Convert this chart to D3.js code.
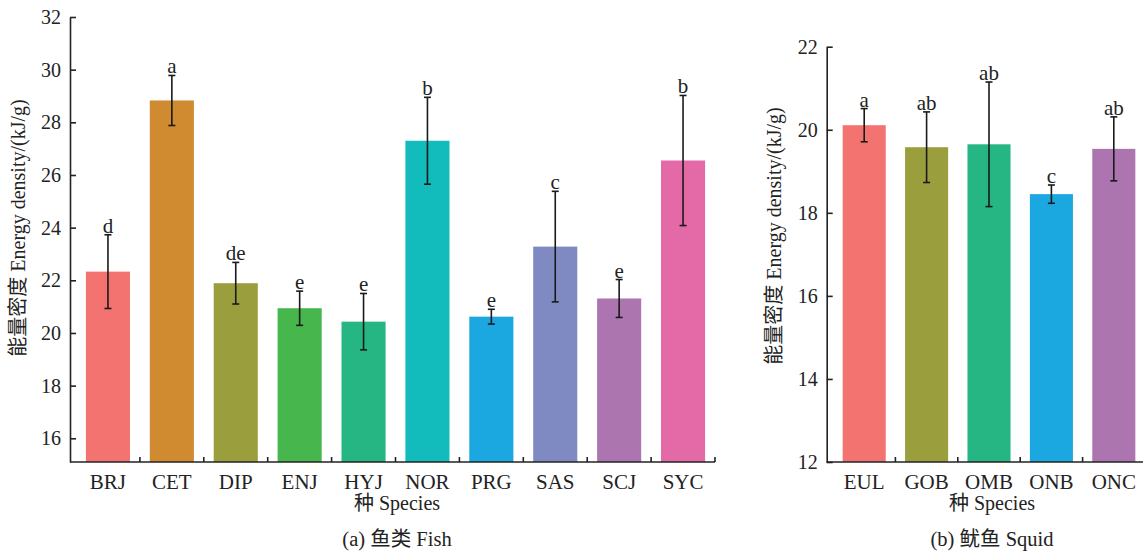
<!DOCTYPE html>
<html>
<head>
<meta charset="utf-8">
<script src="https://cdn.jsdelivr.net/npm/d3@7"></script>
<style>
  body { margin: 0; background: #fff; }
  svg text { font-family: "Liberation Serif", "Times New Roman", "Noto Sans CJK SC", serif; fill: #222; }
  .axis path, .axis line { stroke: #222; stroke-width: 1.6; }
  .y-axis text { font-size: 20px; }
  .x-axis text { font-size: 21px; }
</style>
</head>
<body>
<div id="chart"></div>
<script>
// Panel (a) fish
const fishSpecies = ["BRJ", "CET", "DIP", "ENJ", "HYJ", "NOR", "PRG", "SAS", "SCJ", "SYC"];
const fishMeans = [22.33, 28.83, 21.89, 20.94, 20.43, 27.30, 20.62, 23.28, 21.31, 26.55];
const fishErrors = [1.40, 0.95, 0.79, 0.65, 1.07, 1.65, 0.28, 2.10, 0.72, 2.47];
const fishLetters = ["d", "a", "de", "e", "e", "b", "e", "c", "e", "b"];
const fishColors = ["#F37370", "#D08A2F", "#9B9E3D", "#47B64C", "#25B684", "#12BBBC", "#1BA7E0", "#7F89C2", "#AD75B0", "#E36AA6"];
const fishTicks = [16, 18, 20, 22, 24, 26, 28, 30, 32];

// Panel (b) squid
const squidSpecies = ["EUL", "GOB", "OMB", "ONB", "ONC"];
const squidMeans = [20.11, 19.58, 19.65, 18.45, 19.54];
const squidErrors = [0.40, 0.85, 1.50, 0.22, 0.77];
const squidLetters = ["a", "ab", "ab", "c", "ab"];
const squidColors = ["#F37370", "#9B9E3D", "#25B684", "#1BA7E0", "#AD75B0"];
const squidTicks = [12, 14, 16, 18, 20, 22];

const svg = d3.select("#chart").append("svg")
    .attr("width", 1143)
    .attr("height", 553);

function drawPanel(cfg) {
    const x = d3.scaleBand()
        .domain(cfg.species)
        .range([cfg.bandStart, cfg.bandEnd])
        .paddingInner(0.31)
        .paddingOuter(0.155);

    const y = d3.scaleLinear()
        .domain(cfg.yDomain)
        .range([cfg.bottom, cfg.top]);

    const g = svg.append("g");

    // bars
    g.selectAll(".bar")
        .data(cfg.species)
        .join("rect")
        .attr("class", "bar")
        .attr("x", d => x(d))
        .attr("width", x.bandwidth())
        .attr("y", (d, i) => y(cfg.means[i]))
        .attr("height", (d, i) => cfg.bottom - y(cfg.means[i]))
        .attr("fill", (d, i) => cfg.colors[i]);

    // error bars
    const cap = 3.5;
    const eb = g.selectAll(".err")
        .data(cfg.species)
        .join("g")
        .attr("class", "err")
        .attr("stroke", "#1a1a1a")
        .attr("stroke-width", 1.6);
    const cx = d => x(d) + x.bandwidth() / 2;
    eb.append("line")
        .attr("x1", cx).attr("x2", cx)
        .attr("y1", (d, i) => y(cfg.means[i] + cfg.errors[i]))
        .attr("y2", (d, i) => y(cfg.means[i] - cfg.errors[i]));
    eb.append("line")
        .attr("x1", d => cx(d) - cap).attr("x2", d => cx(d) + cap)
        .attr("y1", (d, i) => y(cfg.means[i] + cfg.errors[i]))
        .attr("y2", (d, i) => y(cfg.means[i] + cfg.errors[i]));
    eb.append("line")
        .attr("x1", d => cx(d) - cap).attr("x2", d => cx(d) + cap)
        .attr("y1", (d, i) => y(cfg.means[i] - cfg.errors[i]))
        .attr("y2", (d, i) => y(cfg.means[i] - cfg.errors[i]));

    // significance letters
    g.selectAll(".sig")
        .data(cfg.species)
        .join("text")
        .attr("class", "sig")
        .attr("x", cx)
        .attr("y", (d, i) => y(cfg.means[i] + cfg.errors[i]) - 2)
        .attr("text-anchor", "middle")
        .attr("font-size", "21px")
        .text((d, i) => cfg.letters[i]);

    // axes, ticks pointing inward
    const yAxis = d3.axisLeft(y)
        .tickValues(cfg.ticks)
        .tickSize(-6)
        .tickPadding(9)
        .tickSizeOuter(0);
    g.append("g")
        .attr("class", "axis y-axis")
        .attr("transform", `translate(${cfg.axisX},0)`)
        .call(yAxis);

    const xAxis = d3.axisBottom(x).tickSize(0).tickPadding(12);
    const xg = g.append("g")
        .attr("class", "axis x-axis")
        .attr("transform", `translate(0,${cfg.bottom})`)
        .call(xAxis);
    xg.select(".domain")
        .attr("d", `M${cfg.axisX},0H${cfg.bandEnd}`);
    // ticks at the band boundaries
    xg.selectAll(".sep")
        .data(cfg.species.slice(1).concat(["__end"]))
        .join("line")
        .attr("class", "sep")
        .attr("x1", d => d === "__end" ? cfg.bandEnd : x(d) - x.step() * x.paddingInner() / 2)
        .attr("x2", d => d === "__end" ? cfg.bandEnd : x(d) - x.step() * x.paddingInner() / 2)
        .attr("y1", 0)
        .attr("y2", -5);

    // y title
    svg.append("text")
        .attr("transform", `translate(${cfg.yTitleX},${cfg.yTitleY}) rotate(-90)`)
        .attr("text-anchor", "middle")
        .attr("font-size", "20px")
        .text("能量密度 Energy density/(kJ/g)");

    // x title
    svg.append("text")
        .attr("x", cfg.titleX)
        .attr("y", 510)
        .attr("text-anchor", "middle")
        .attr("font-size", "20px")
        .text("种 Species");

    // caption
    svg.append("text")
        .attr("x", cfg.titleX)
        .attr("y", 546)
        .attr("text-anchor", "middle")
        .attr("font-size", "20.5px")
        .text(cfg.caption);
}

drawPanel({
    species: fishSpecies, means: fishMeans, errors: fishErrors,
    letters: fishLetters, colors: fishColors, ticks: fishTicks,
    yDomain: [15.1, 32], top: 17, bottom: 462,
    axisX: 70, bandStart: 76, bandEnd: 715,
    yTitleX: 25, yTitleY: 228, titleX: 397, caption: "(a) 鱼类 Fish"
});

drawPanel({
    species: squidSpecies, means: squidMeans, errors: squidErrors,
    letters: squidLetters, colors: squidColors, ticks: squidTicks,
    yDomain: [12, 22], top: 46.7, bottom: 462,
    axisX: 826.7, bandStart: 833, bandEnd: 1145,
    yTitleX: 781, yTitleY: 236, titleX: 992, caption: "(b) 鱿鱼 Squid"
});
</script>
</body>
</html>
